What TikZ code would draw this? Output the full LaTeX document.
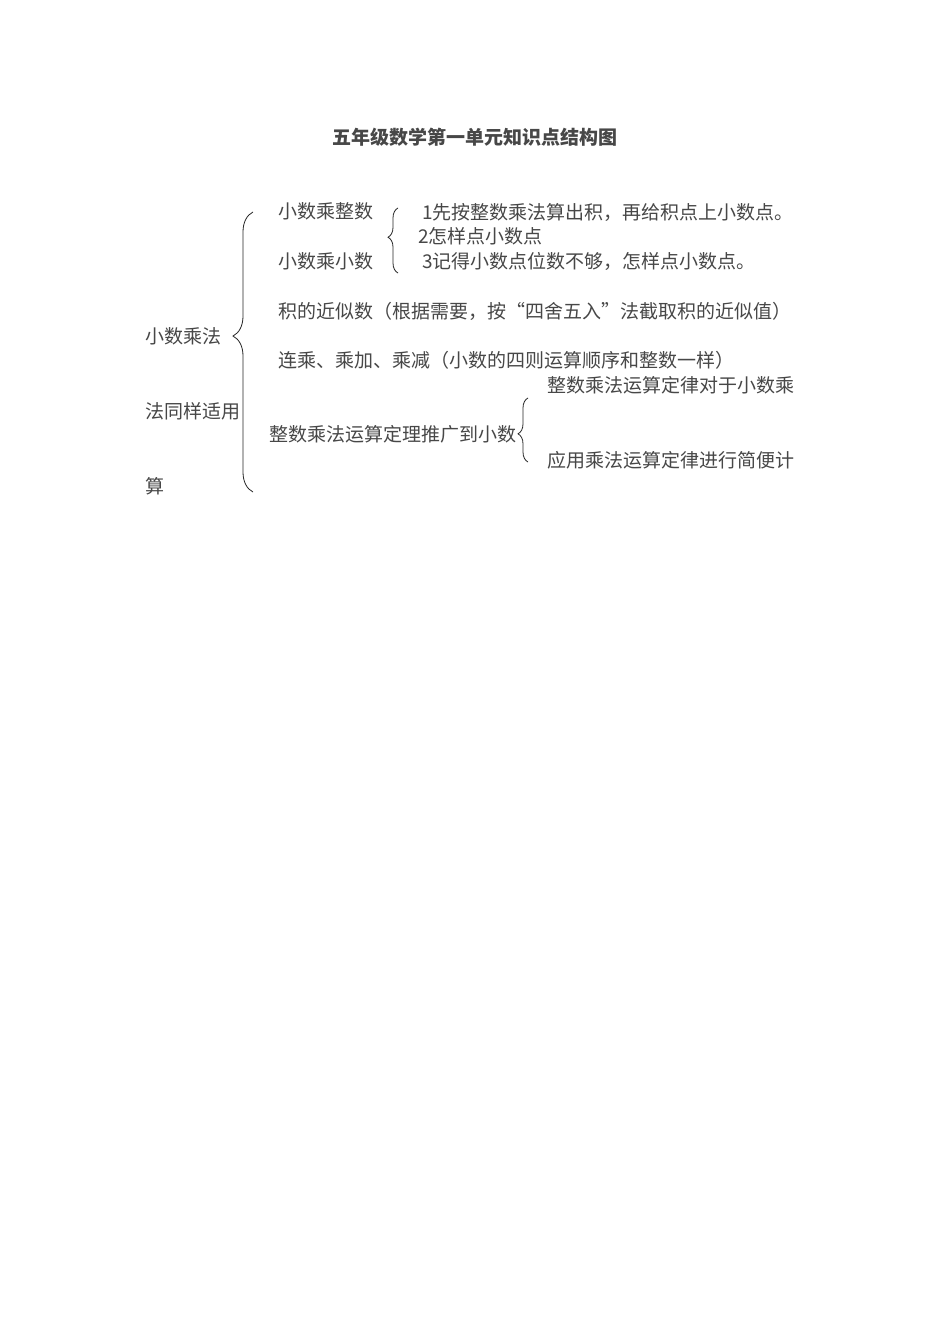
\documentclass[tikz,border=0pt]{standalone}
\usepackage{fontspec}
\usetikzlibrary{decorations.pathreplacing}
\newfontfamily\cjk{Noto Sans CJK SC}
\tikzset{
  txt/.style={font=\cjk\fontsize{14.25}{16}\selectfont, text=black!72, anchor=west, inner sep=0pt},
  ttl/.style={font=\cjk\bfseries\fontsize{14.25}{16}\selectfont, text=black!72, inner sep=0pt},
  brc/.style={decorate, decoration={brace, amplitude=#1}, line width=0.6pt, black!85},
}
\begin{document}
\begin{tikzpicture}[x=0.75pt,y=-0.75pt]
    \useasboundingbox[fill=white] (0,0) rectangle (950,1344);
    \node[ttl] (title) at (475,137) {五年级数学第一单元知识点结构图};
    % left column
    \node[txt] (mul1) at (145,336) {小数乘法};
    \node[txt] (mul2) at (145,411) {法同样适用};
    \node[txt] (mul3) at (145,486) {算};
    \draw[brc=15pt, decoration={aspect=0.557}] (253,492) -- (253,212);
    % first group
    \node[txt] (int) at (278,211) {小数乘整数};
    \node[txt] (dec) at (278,261) {小数乘小数};
    \draw[brc=7.5pt, decoration={aspect=0.55}] (398,273) -- (398,208);
    \node[txt] (stepa) at (422,212) {1先按整数乘法算出积，再给积点上小数点。};
    \node[txt] (stepb) at (418,236) {2怎样点小数点};
    \node[txt] (stepc) at (422,261) {3记得小数点位数不够，怎样点小数点。};
    % other items
    \node[txt] (approx) at (278,311) {积的近似数（根据需要，按“四舍五入”法截取积的近似值）};
    \node[txt] (mixed) at (278,360) {连乘、乘加、乘减（小数的四则运算顺序和整数一样）};
    \node[txt] (law) at (269,434) {整数乘法运算定理推广到小数};
    \draw[brc=7.5pt, decoration={aspect=0.44}] (528,462) -- (528,398);
    \node[txt] (lawa) at (547,385) {整数乘法运算定律对于小数乘};
    \node[txt] (lawb) at (547,460) {应用乘法运算定律进行简便计};
\end{tikzpicture}
\end{document}
